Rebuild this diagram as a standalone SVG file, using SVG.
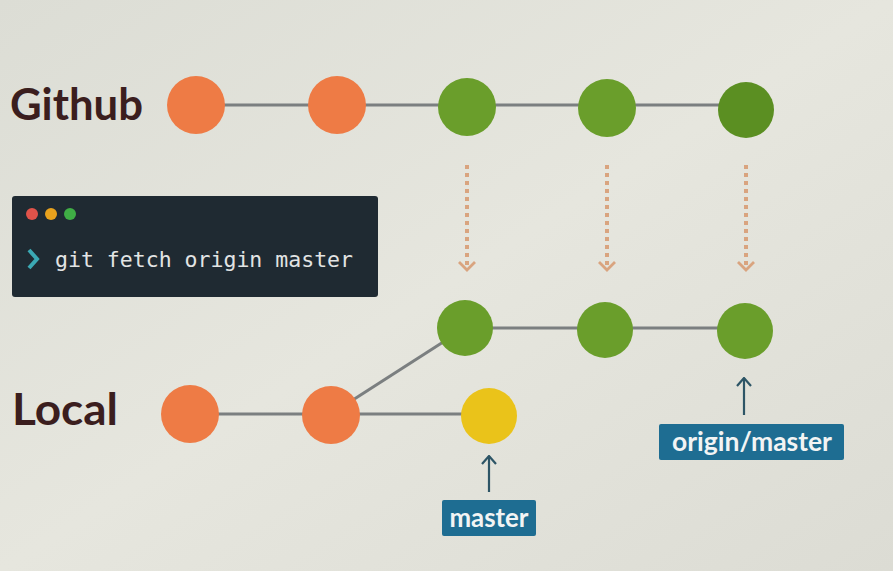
<svg xmlns="http://www.w3.org/2000/svg" width="893" height="571" viewBox="0 0 893 571">
<defs>
<linearGradient id="bg" x1="0" y1="0" x2="1" y2="1">
<stop offset="0" stop-color="#dcddd5"/>
<stop offset="0.5" stop-color="#e6e6de"/>
<stop offset="1" stop-color="#dcdcd4"/>
</linearGradient>
<marker id="chev" viewBox="0 0 20 12" refX="10" refY="10" markerWidth="20" markerHeight="12" markerUnits="userSpaceOnUse" orient="0">
<path d="M2,2 L10,10 L18,2" fill="none" stroke="#d9a47f" stroke-width="2.8"/>
</marker>
<marker id="up" viewBox="0 0 16 10" refX="8" refY="1" markerWidth="16" markerHeight="10" markerUnits="userSpaceOnUse" orient="0">
<path d="M1,9 L8,1 L15,9" fill="none" stroke="#2d5566" stroke-width="2.2"/>
</marker>
</defs>
<style>
.head{font-family:"Lato","Open Sans",sans-serif;font-weight:700;font-size:44px;fill:#3b1e1e}
.edge{stroke:#7b7f80;stroke-width:3;fill:none}
.fetch{stroke:#d9a47f;stroke-width:4;stroke-dasharray:4 4;fill:none}
.ptr{stroke:#2d5566;stroke-width:2.2;fill:none}
.o{fill:#ee7b45}
.g{fill:#6a9e2b}
.g2{fill:#5b8f22}
.y{fill:#eac31a}
.lab{fill:#1e6d92}
.labt{font-family:"Lato","Open Sans",sans-serif;font-weight:700;font-size:26px;fill:#f2f4f4;text-anchor:middle}
.mono{font-family:"DejaVu Sans Mono","Liberation Mono",monospace;font-size:21.6px;fill:#e2e4e4}
</style>
<rect x="0" y="0" width="893" height="571" fill="url(#bg)"/>
<text class="head" x="10" y="120" textLength="133" lengthAdjust="spacingAndGlyphs">Github</text>
<text class="head" x="12" y="425" textLength="106" lengthAdjust="spacingAndGlyphs">Local</text>
<g id="connectors">
<line class="edge" x1="196" y1="105" x2="746" y2="105"/>
<line class="edge" x1="465" y1="328" x2="745" y2="328"/>
<line class="edge" x1="190" y1="414" x2="489" y2="414"/>
<line class="edge" x1="331" y1="414" x2="465" y2="328"/>
<line class="fetch" x1="467" y1="165" x2="467" y2="270" marker-end="url(#chev)"/>
<line class="fetch" x1="607" y1="165" x2="607" y2="270" marker-end="url(#chev)"/>
<line class="fetch" x1="746" y1="165" x2="746" y2="270" marker-end="url(#chev)"/>
<line class="ptr" x1="489" y1="492" x2="489" y2="456" marker-end="url(#up)"/>
<line class="ptr" x1="744" y1="415" x2="744" y2="378" marker-end="url(#up)"/>
</g>
<g id="terminal">
<rect x="12" y="196" width="366" height="101" rx="3" fill="#1f2a32"/>
<circle cx="32" cy="214" r="6" fill="#e0534a"/>
<circle cx="51" cy="214" r="6" fill="#e8a21d"/>
<circle cx="70" cy="214" r="6" fill="#3fae45"/>
<path d="M29,250 L37,259 L29,268" fill="none" stroke="#3ba9b4" stroke-width="4"/>
<text class="mono" x="55" y="267" textLength="298" lengthAdjust="spacingAndGlyphs">git fetch origin master</text>
</g>
<g id="gh1"><circle class="o" cx="196" cy="105" r="29"/></g>
<g id="gh2"><circle class="o" cx="337" cy="105" r="29"/></g>
<g id="gh3"><circle class="g" cx="467" cy="107" r="29"/></g>
<g id="gh4"><circle class="g" cx="607" cy="108" r="29"/></g>
<g id="gh5"><circle class="g2" cx="746" cy="110" r="28"/></g>
<g id="lo3"><circle class="g" cx="465" cy="328" r="28"/></g>
<g id="lo4"><circle class="g" cx="605" cy="330" r="28"/></g>
<g id="lo5"><circle class="g" cx="745" cy="331" r="28"/></g>
<g id="lo1"><circle class="o" cx="190" cy="414" r="29"/></g>
<g id="lo2"><circle class="o" cx="331" cy="415" r="29"/></g>
<g id="lo6"><circle class="y" cx="489" cy="416" r="28"/></g>
<g id="master">
<rect class="lab" x="442" y="500" width="94" height="36" rx="2"/>
<text class="labt" x="489" y="527" textLength="79" lengthAdjust="spacingAndGlyphs">master</text>
</g>
<g id="origin-master">
<rect class="lab" x="659" y="424" width="185" height="36" rx="2"/>
<text class="labt" x="752" y="451" textLength="160" lengthAdjust="spacingAndGlyphs">origin/master</text>
</g>
</svg>
